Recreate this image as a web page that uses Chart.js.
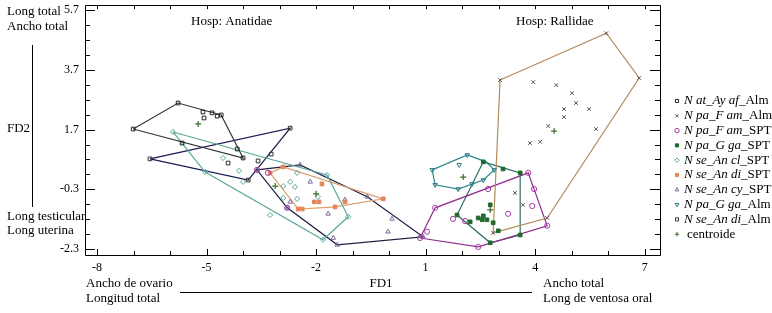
<!DOCTYPE html>
<html><head><meta charset="utf-8">
<script src="https://cdn.jsdelivr.net/npm/chart.js@4/dist/chart.umd.min.js"></script>
<style>html,body{margin:0;padding:0;background:#fff;}#wrap{width:772px;height:313px;}</style>
</head><body><div id="wrap"><canvas id="c" width="772" height="313"></canvas></div>
<script>
// ---- tick labels ----
const xTicks = [-8, -5, -2, 1, 4, 7];
const yTicks = [5.7, 3.7, 1.7, -0.3, -2.3];

// ---- legend labels (italic part + suffix) ----
const legendItalic = ['N at_Ay af','N pa_F am','N pa_F am','N pa_G ga','N se_An cl','N se_An di','N se_An cy','N pa_G ga','N se_An di'];
const legendSuffix = ['_Alm','_Alm','_SPT','_SPT','_SPT','_SPT','_SPT','_Alm','_Alm'];
const centroidLabel = 'centroide';

// ---- series values (FD1, FD2) ----
const atAyAfAlmPts = [[-7.01,1.72],[-5.78,2.59],[-5.10,2.29],[-5.07,2.09],[-4.85,2.26],[-4.71,2.15],[-4.60,2.19],[-4.00,0.75],[-4.16,1.05],[-5.67,1.25]];
const atAyAfAlmHull = [[-7.01,1.72],[-5.78,2.59],[-4.60,2.19],[-4.00,0.75]];

const paFamAlmPts = [[3.04,3.36],[5.95,4.93],[6.85,3.43],[4.33,-1.26],[2.85,-1.76],[3.95,3.29],[4.58,3.19],[5.01,2.92],[5.12,2.59],[4.79,2.39],[5.48,2.39],[4.79,2.12],[4.36,1.82],[5.67,1.72],[3.86,1.25],[4.14,1.29],[3.45,-0.42],[3.67,-0.82]];
const paFamAlmHull = [[3.04,3.36],[5.95,4.93],[6.85,3.43],[4.33,-1.26],[2.85,-1.76]];

const paFamSptPts = [[-3.62,0.35],[-3.32,0.25],[-2.79,-0.92],[0.85,-1.93],[1.04,-1.72],[1.26,-0.92],[3.81,0.25],[4.33,-1.52],[2.44,-2.23],[1.75,-1.29],[2.08,-1.36],[3.26,-1.12],[2.71,-0.29],[3.92,-0.86],[3.97,-0.29]];
const paFamSptHull = [[0.85,-1.93],[1.26,-0.92],[3.81,0.25],[4.33,-1.52],[2.44,-2.23]];

const paGgaSptPts = [[2.58,0.62],[3.12,0.38],[3.59,0.25],[3.59,-1.83],[2.77,-2.09],[1.86,-1.16],[2.77,-0.82],[2.44,-1.26],[2.58,-1.19],[2.55,-1.32],[2.68,-1.32],[2.22,-1.39],[2.99,-1.69],[2.85,-1.42]];
const paGgaSptHull = [[2.58,0.62],[3.59,0.25],[3.59,-1.83],[2.77,-2.09],[1.86,-1.16]];

const seAnClSptPts = [[-5.92,1.62],[-1.70,0.18],[-1.12,-1.22],[-1.81,-1.99],[-3.26,-1.16],[-5.04,0.28],[-4.55,0.75],[-4.11,0.32],[-4.00,-0.05],[-2.71,-0.05],[-2.52,0.25],[-2.90,-0.19],[-2.58,-0.22],[-2.90,-0.59],[-2.52,-0.62],[-1.95,-0.55]];
const seAnClSptHull = [[-5.92,1.62],[-1.70,0.18],[-1.12,-1.22],[-1.81,-1.99],[-5.04,0.28]];

const seAnDiSptPts = [[-3.26,0.25],[-2.90,0.45],[-0.16,-0.62],[-2.49,-0.96],[-1.84,-0.12],[-2.05,-0.72],[-1.92,-0.72],[-1.48,-0.89],[-1.21,-0.72],[-2.38,-0.96]];
const seAnDiSptHull = [[-3.26,0.25],[-2.90,0.45],[-0.16,-0.62],[-1.48,-0.89],[-2.49,-0.96]];

const seAnCySptPts = [[-3.62,0.35],[-2.44,0.52],[-0.60,-0.55],[0.93,-1.89],[-1.42,-2.16],[-2.79,-0.92],[-2.16,-0.05],[-1.67,-1.12],[0.08,-1.29],[-0.03,-1.72],[-1.53,-1.93],[-2.71,-0.72],[-1.21,-0.65]];
const seAnCySptHull = [[-3.62,0.35],[-2.44,0.52],[-0.60,-0.55],[0.93,-1.89],[-1.42,-2.16],[-2.79,-0.92]];

const paGgaAlmPts = [[1.18,0.35],[2.14,0.85],[2.88,0.35],[2.58,0.01],[1.89,-0.29],[1.26,-0.15],[1.92,0.52],[2.27,-0.12]];
const paGgaAlmHull = [[1.18,0.35],[2.14,0.85],[2.66,0.62],[2.88,0.35],[2.58,0.01],[1.89,-0.29],[1.26,-0.15]];

const seAnDiAlmPts = [[-6.55,0.72],[-2.71,1.75],[-3.86,0.01],[-4.41,0.58],[-3.59,0.65],[-3.23,0.88]];
const seAnDiAlmHull = [[-6.55,0.72],[-2.71,1.75],[-3.86,0.01]];

const centroidPts = [[-5.23,1.89],[-3.12,-0.19],[-2.00,-0.45],[2.03,0.11],[2.77,-0.99],[4.52,1.65]];

// ---- styles ----
const seriesDefs = [
  {pts: atAyAfAlmPts, hull: atAyAfAlmHull, style:'rect', rot:0, mk:'#222', fill:false, line:'#333'},
  {pts: paFamAlmPts, hull: paFamAlmHull, style:'crossRot', rot:0, mk:'#555', fill:false, line:'#b48c5c'},
  {pts: paFamSptPts, hull: paFamSptHull, style:'circle', rot:0, mk:'#a43ca4', fill:false, line:'#8e2e8e'},
  {pts: paGgaSptPts, hull: paGgaSptHull, style:'rect', rot:0, mk:'#1e6a2c', fill:true, line:'#2a6e66'},
  {pts: seAnClSptPts, hull: seAnClSptHull, style:'rectRot', rot:0, mk:'#5aa898', fill:false, line:'#5aa898'},
  {pts: seAnDiSptPts, hull: seAnDiSptHull, style:'rect', rot:0, mk:'#e8845a', fill:true, line:'#e0a070'},
  {pts: seAnCySptPts, hull: seAnCySptHull, style:'triangle', rot:0, mk:'#7a6a9a', fill:false, line:'#1e1e44'},
  {pts: paGgaAlmPts, hull: paGgaAlmHull, style:'triangle', rot:180, mk:'#2a7a8a', fill:false, line:'#2a8a8a'},
  {pts: seAnDiAlmPts, hull: seAnDiAlmHull, style:'rect', rot:0, mk:'#333', fill:false, line:'#1a1a50'}
];
const centroidColor = '#3a6a2a';

const toXY = a => a.map(p => ({x:p[0], y:p[1]}));
const datasets = [];
seriesDefs.forEach(s => {
  datasets.push({
    data: toXY(s.pts), pointStyle: s.style, rotation: s.rot, pointRadius: 2.6,
    borderColor: s.mk, backgroundColor: s.fill ? s.mk : 'rgba(255,255,255,0)', borderWidth: 1, showLine:false, order:1
  });
});
datasets.push({data: toXY(centroidPts), pointStyle:'cross', pointRadius:3, borderColor:centroidColor, borderWidth:1.2, showLine:false, order:0});
seriesDefs.forEach(s => {
  datasets.push({
    data: toXY(s.hull.concat([s.hull[0]])), showLine:true, pointRadius:0, borderColor:s.line, borderWidth:1.2, tension:0, fill:false, order:2
  });
});

const FONT = '"Liberation Serif", "Times New Roman", serif';

const decoPlugin = {
  id:'deco',
  afterDraw(chart){
    const {ctx, chartArea:a, scales:{x, y}} = chart;
    ctx.save();
    ctx.strokeStyle = '#000'; ctx.lineWidth = 1;
    ctx.beginPath();
    ctx.rect(Math.round(a.left)+0.5, Math.round(a.top)+0.5, Math.round(a.right-a.left), Math.round(a.bottom-a.top));
    for (let v = Math.ceil(x.min); v <= x.max; v++) {
      const p = Math.round(x.getPixelForValue(v)) + 0.5;
      const L = xTicks.includes(v) ? 6 : 4;
      ctx.moveTo(p, a.bottom); ctx.lineTo(p, a.bottom - L);
      ctx.moveTo(p, a.top); ctx.lineTo(p, a.top + 4);
    }
    for (let k = 0; ; k++) {
      const v = yTicks[0] - 0.5 * k;
      if (v < y.min - 1e-9) break;
      const p = Math.round(y.getPixelForValue(v)) + 0.5;
      const L = (k % 4 === 0) ? 10 : 5;
      ctx.moveTo(a.left, p); ctx.lineTo(a.left + L, p);
      ctx.moveTo(a.right, p); ctx.lineTo(a.right - L, p);
    }
    ctx.stroke();

    // axis description lines
    ctx.beginPath();
    ctx.moveTo(32.5, 45); ctx.lineTo(32.5, 207);
    ctx.moveTo(180, 292.5); ctx.lineTo(532, 292.5);
    ctx.stroke();

    ctx.fillStyle = '#000';
    ctx.font = '13px ' + FONT;
    ctx.textBaseline = 'middle';
    ctx.textAlign = 'left';
    ctx.fillText('Hosp: Anatidae', 191, 22);
    ctx.fillText('Hosp: Rallidae', 516, 22);
    ctx.fillText('Long total', 7, 12);
    ctx.fillText('Ancho total', 7, 27);
    ctx.fillText('FD2', 7, 129);
    ctx.fillText('Long testicular', 7, 217);
    ctx.fillText('Long uterina', 7, 231);
    ctx.fillText('Ancho de ovario', 86, 284);
    ctx.fillText('Longitud total', 86, 299);
    ctx.fillText('Ancho total', 543, 284);
    ctx.fillText('Long de ventosa oral', 543, 299);
    ctx.textAlign = 'center';
    ctx.fillText('FD1', 381, 284);

    // legend
    ctx.textAlign = 'left';
    const lx = 677, ly0 = 101, dy = 14.8;
    seriesDefs.forEach((s, i) => {
      const yy = ly0 + i * dy;
      ctx.strokeStyle = s.mk;
      ctx.fillStyle = s.fill ? s.mk : 'rgba(255,255,255,0)';
      ctx.lineWidth = 1;
      Chart.helpers.drawPoint(ctx, {pointStyle:s.style, radius:2.2, rotation:s.rot, borderWidth:1}, lx, yy);
      ctx.fillStyle = '#000';
      ctx.font = 'italic 13px ' + FONT;
      ctx.fillText(legendItalic[i], lx + 7, yy);
      const w = ctx.measureText(legendItalic[i]).width;
      ctx.font = '13px ' + FONT;
      ctx.fillText(legendSuffix[i], lx + 7 + w, yy);
    });
    const yc = ly0 + seriesDefs.length * dy;
    ctx.strokeStyle = centroidColor; ctx.lineWidth = 1;
    Chart.helpers.drawPoint(ctx, {pointStyle:'cross', radius:2.2, borderWidth:1}, lx, yc);
    ctx.fillStyle = '#000';
    ctx.font = '13px ' + FONT;
    ctx.fillText(centroidLabel, lx + 10, yc);
    ctx.restore();
  }
};

const noPad = sc => { sc.paddingTop = 0; sc.paddingBottom = 0; sc.paddingLeft = 0; sc.paddingRight = 0; };

new Chart(document.getElementById('c'), {
  type:'scatter',
  data:{datasets},
  options:{
    responsive:false, animation:false, devicePixelRatio:1,
    layout:{padding:{top:4, right:112, bottom:0, left:0}},
    plugins:{legend:{display:false}, tooltip:{enabled:false}},
    scales:{
      x:{
        type:'linear', min:-8.33, max:7.42,
        grid:{display:false, drawTicks:false}, border:{display:false},
        afterBuildTicks: sc => { sc.ticks = xTicks.map(v => ({value:v})); },
        afterFit: sc => { sc.height = 58; noPad(sc); },
        ticks:{autoSkip:false, maxRotation:0, padding:6, color:'#000', font:{family:FONT, size:12}, callback: v => String(v)}
      },
      y:{
        type:'linear', min:-2.5, max:5.867,
        grid:{display:false, drawTicks:false}, border:{display:false},
        afterBuildTicks: sc => { sc.ticks = yTicks.map(v => ({value:v})); },
        afterFit: sc => { sc.width = 85; noPad(sc); },
        ticks:{autoSkip:false, padding:6, color:'#000', font:{family:FONT, size:12}, callback: v => Number(v).toFixed(1)}
      }
    }
  },
  plugins:[decoPlugin]
});
</script>
</body></html>
